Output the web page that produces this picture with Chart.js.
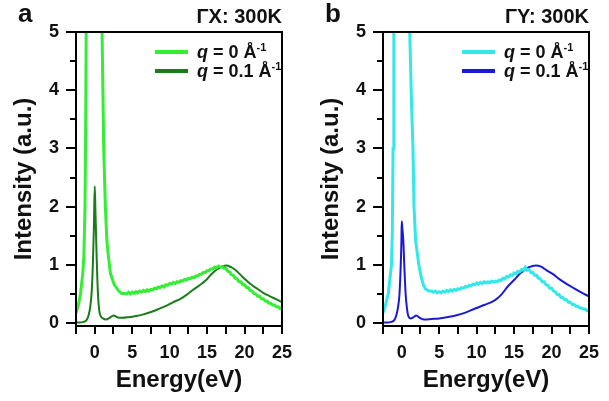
<!DOCTYPE html>
<html>
<head>
<meta charset="utf-8">
<script src="https://cdn.jsdelivr.net/npm/chart.js@4.4.1/dist/chart.umd.min.js"></script>
<style>
  body { margin: 0; background: #fff; width: 609px; height: 401px; position: relative; overflow: hidden; }
  canvas { position: absolute; top: 0; }
</style>
</head>
<body>
<canvas id="chart-gx" width="300" height="401" style="left:0"></canvas>
<canvas id="chart-gy" width="300" height="401" style="left:307px"></canvas>
<script>
// ticks
let xTicks = [-2.5, 0, 2.5, 5, 7.5, 10, 12.5, 15, 17.5, 20, 22.5, 25];
let yTicks = [0, 0.5, 1, 1.5, 2, 2.5, 3, 3.5, 4, 4.5, 5];

// shared energy grid for the noisy q = 0 tails (eV)
let fineEnergy = [4, 4.25, 4.5, 4.75, 5, 5.25, 5.5, 5.75, 6, 6.25, 6.5, 6.75, 7, 7.25, 7.5, 7.75,
  8, 8.25, 8.5, 8.75, 9, 9.25, 9.5, 9.75, 10, 10.25, 10.5, 10.75, 11, 11.25, 11.5, 11.75,
  12, 12.25, 12.5, 12.75, 13, 13.25, 13.5, 13.75, 14, 14.25, 14.5, 14.75, 15, 15.25, 15.5, 15.75,
  16, 16.25, 16.5, 16.75, 17, 17.25, 17.5, 17.75, 18, 18.25, 18.5, 18.75, 19, 19.25, 19.5, 19.75,
  20, 20.25, 20.5, 20.75, 21, 21.25, 21.5, 21.75, 22, 22.25, 22.5, 22.75, 23, 23.25, 23.5, 23.75,
  24, 24.25, 24.5, 24.75, 25];

// panel a, GX, q = 0
let gxQ0HeadE = [-2.5, -2.2, -1.9, -1.6, -1.45, -1.3, -1.2, -1.1, -0.6, 0, 0.6, 0.85, 0.98, 1.2, 1.42, 1.63, 1.85, 2.1, 2.6, 3.2, 3.6];
let gxQ0HeadI = [0.17, 0.3, 0.5, 0.85, 1.15, 2.0, 3.5, 6, 14, 18, 11, 7, 5, 3, 2, 1.4, 1.12, 0.85, 0.66, 0.55, 0.51];
let gxQ0Tail = [0.51, 0.50, 0.53, 0.50, 0.53, 0.51, 0.54, 0.52, 0.55, 0.53, 0.56, 0.54, 0.57, 0.55, 0.58, 0.57,
  0.60, 0.59, 0.62, 0.61, 0.64, 0.62, 0.66, 0.65, 0.68, 0.67, 0.70, 0.68, 0.71, 0.70, 0.73, 0.72,
  0.75, 0.74, 0.77, 0.76, 0.79, 0.78, 0.81, 0.81, 0.84, 0.84, 0.87, 0.87, 0.90, 0.90, 0.93, 0.93,
  0.96, 0.95, 0.98, 0.96, 0.97, 0.94, 0.94, 0.89, 0.88, 0.83, 0.82, 0.77, 0.76, 0.71, 0.71, 0.66,
  0.66, 0.61, 0.61, 0.56, 0.55, 0.51, 0.50, 0.46, 0.46, 0.42, 0.42, 0.38, 0.38, 0.34, 0.34, 0.31,
  0.31, 0.28, 0.28, 0.25, 0.26];

// panel a, GX, q = 0.1
let gxQ1E = [-2.5, -2, -1.5, -1.1, -0.85, -0.6, -0.4, -0.25, -0.12, 0, 0.1, 0.2, 0.3, 0.45, 0.6, 0.8, 1.1, 1.5, 2.0, 2.5, 3.0, 3.6,
  4.5, 5.5, 6.5, 7.5, 8.5, 9.6, 10.5, 11.5, 12.2, 13, 14, 14.8, 15.5, 16.3, 17, 17.6, 18.2, 18.7, 19.3, 20, 20.8, 21.7, 22.5, 23.4, 24.2, 25];
let gxQ1I = [0.01, 0.01, 0.02, 0.05, 0.12, 0.28, 0.55, 1.0, 1.6, 2.35, 1.9, 1.4, 0.95, 0.45, 0.22, 0.12, 0.08, 0.06, 0.09, 0.13, 0.1, 0.09,
  0.1, 0.12, 0.15, 0.19, 0.24, 0.3, 0.36, 0.42, 0.48, 0.56, 0.65, 0.73, 0.83, 0.92, 0.97, 0.99, 0.96, 0.92, 0.85, 0.76, 0.67, 0.59, 0.52, 0.46, 0.41, 0.36];

// panel b, GY, q = 0
let gyQ0HeadE = [-2.5, -2.2, -1.8, -1.37, -1.25, -1.16, -1.05, -0.6, 0, 0.6, 0.9, 1.07, 1.3, 1.5, 1.64, 1.85, 2.28, 2.58, 2.9, 3.14, 3.6];
let gyQ0HeadI = [0.17, 0.3, 0.5, 1.0, 1.6, 3.0, 6, 14, 18, 11, 7, 5, 3.8, 3.0, 2.0, 1.42, 1.0, 0.8, 0.65, 0.59, 0.55];
let gyQ0Tail = [0.55, 0.53, 0.55, 0.52, 0.54, 0.52, 0.55, 0.53, 0.56, 0.54, 0.57, 0.55, 0.58, 0.56, 0.59, 0.58,
  0.61, 0.60, 0.63, 0.62, 0.65, 0.64, 0.67, 0.66, 0.69, 0.67, 0.70, 0.68, 0.71, 0.69, 0.71, 0.69,
  0.72, 0.70, 0.72, 0.71, 0.74, 0.73, 0.77, 0.76, 0.80, 0.79, 0.83, 0.82, 0.86, 0.85, 0.89, 0.88,
  0.92, 0.91, 0.96, 0.91, 0.92, 0.87, 0.87, 0.82, 0.82, 0.77, 0.76, 0.71, 0.71, 0.66, 0.65, 0.60,
  0.60, 0.55, 0.54, 0.49, 0.49, 0.44, 0.44, 0.40, 0.40, 0.36, 0.36, 0.32, 0.32, 0.29, 0.29, 0.26,
  0.26, 0.24, 0.24, 0.21, 0.22];

// panel b, GY, q = 0.1
let gyQ1E = [-2.5, -2, -1.4, -1.0, -0.73, -0.5, -0.3, -0.13, -0.04, 0, 0.1, 0.21, 0.34, 0.52, 0.7, 0.86, 1.2, 1.55, 1.94, 2.4, 3.0,
  4.0, 5.0, 6.0, 7.2, 8.5, 9.8, 11, 12.4, 13.3, 14.1, 15, 15.8, 16.5, 17, 17.9, 18.6, 19.3, 20.2, 21, 21.8, 22.7, 23.9, 25];
let gyQ1I = [0.01, 0.01, 0.02, 0.05, 0.13, 0.27, 0.5, 1.0, 1.42, 1.75, 1.6, 1.42, 1.0, 0.5, 0.25, 0.13, 0.08, 0.1, 0.13, 0.09, 0.06,
  0.07, 0.08, 0.1, 0.13, 0.18, 0.25, 0.31, 0.39, 0.49, 0.62, 0.74, 0.85, 0.92, 0.96, 0.99, 0.97, 0.91, 0.84, 0.76, 0.69, 0.62, 0.53, 0.46];

const FONT = '"Liberation Sans", Arial, sans-serif';
Chart.defaults.font.family = FONT;
Chart.defaults.font.weight = 'bold';
Chart.defaults.color = '#111';

function pairs(es, is) {
  return es.map((e, i) => ({ x: e, y: is[i] }));
}

// frame, tick marks, panel letter, title and in-plot legend
const panelDecor = {
  id: 'panelDecor',
  afterDraw(chart, args, opts) {
    const { ctx, chartArea: a } = chart;
    const xs = chart.scales.x;
    const ys = chart.scales.y;
    ctx.save();
    ctx.strokeStyle = '#000';
    ctx.lineWidth = 2;
    ctx.strokeRect(a.left, a.top, a.right - a.left, a.bottom - a.top);

    ctx.beginPath();
    xTicks.forEach(v => {
      const px = Math.round(xs.getPixelForValue(v));
      ctx.moveTo(px, a.bottom);
      ctx.lineTo(px, a.bottom + 8);
    });
    yTicks.forEach(v => {
      const py = Math.round(ys.getPixelForValue(v));
      ctx.moveTo(a.left - (Number.isInteger(v) ? 10 : 6), py);
      ctx.lineTo(a.left, py);
    });
    ctx.stroke();

    ctx.fillStyle = '#111';
    ctx.textBaseline = 'alphabetic';
    ctx.textAlign = 'left';
    ctx.font = 'bold 26px ' + FONT;
    ctx.fillText(opts.letter, 18, 22);
    ctx.textAlign = 'right';
    ctx.font = 'bold 20px ' + FONT;
    ctx.fillText(opts.title, a.right, 23);

    ctx.textAlign = 'left';
    opts.entries.forEach((ent, k) => {
      const cy = 52 + k * 19;
      ctx.strokeStyle = ent.color;
      ctx.lineWidth = 4;
      ctx.beginPath();
      ctx.moveTo(155, cy);
      ctx.lineTo(188, cy);
      ctx.stroke();
      let tx = 197;
      const base = cy + 6;
      ctx.font = 'italic bold 18px ' + FONT;
      ctx.fillText('q', tx, base);
      tx += ctx.measureText('q').width;
      ctx.font = 'bold 18px ' + FONT;
      const body = ' = ' + ent.q + ' Å';
      ctx.fillText(body, tx, base);
      tx += ctx.measureText(body).width;
      ctx.font = 'bold 11px ' + FONT;
      ctx.fillText('-1', tx, base - 7);
    });
    ctx.restore();
  }
};

function makePanel(id, series, decor) {
  new Chart(document.getElementById(id).getContext('2d'), {
    type: 'line',
    data: {
      datasets: series.map(s => ({
        label: s.label,
        data: s.data,
        borderColor: s.color,
        borderWidth: s.width,
        pointRadius: 0,
        tension: 0,
        cubicInterpolationMode: s.smooth ? 'monotone' : 'default',
      })),
    },
    options: {
      responsive: false,
      animation: false,
      devicePixelRatio: 1,
      layout: { padding: { top: 32, right: 10, left: 0, bottom: 0 } },
      plugins: {
        legend: { display: false },
        tooltip: { enabled: false },
        panelDecor: decor,
      },
      scales: {
        x: {
          type: 'linear',
          min: -2.5,
          max: 25,
          afterBuildTicks: (s) => { s.ticks = xTicks.map(v => ({ value: v })); },
          afterFit: (s) => { s.height = 75; },
          ticks: {
            callback: (v) => (v % 5 === 0 ? String(v) : ''),
            font: { size: 18, weight: 'bold' },
            color: '#111',
            padding: 8,
            maxRotation: 0,
            autoSkip: false,
          },
          grid: { drawOnChartArea: false, tickLength: 8, color: 'rgba(0,0,0,0)' },
          border: { color: '#000', width: 2 },
          title: {
            display: true,
            text: 'Energy(eV)',
            font: { size: 24, weight: 'bold' },
            color: '#111',
            padding: { top: 0, bottom: 6 },
          },
        },
        y: {
          type: 'linear',
          min: -0.05,
          max: 5,
          afterBuildTicks: (s) => { s.ticks = yTicks.map(v => ({ value: v })); },
          afterFit: (s) => { s.width = 76; },
          ticks: {
            callback: (v) => (Number.isInteger(v) ? String(v) : ''),
            font: { size: 18, weight: 'bold' },
            color: '#111',
            padding: 7,
            autoSkip: false,
          },
          grid: { drawOnChartArea: false, tickLength: 10, color: 'rgba(0,0,0,0)' },
          border: { color: '#000', width: 2 },
          title: {
            display: true,
            text: 'Intensity (a.u.)',
            font: { size: 24, weight: 'bold' },
            color: '#111',
            padding: { top: 10, bottom: 0 },
          },
        },
      },
    },
    plugins: [panelDecor],
  });
}

makePanel('chart-gx', [
  { label: 'q = 0', data: pairs(gxQ0HeadE.concat(fineEnergy), gxQ0HeadI.concat(gxQ0Tail)), color: '#33ee33', width: 3, smooth: false },
  { label: 'q = 0.1', data: pairs(gxQ1E, gxQ1I), color: '#1a7d1a', width: 2, smooth: true },
], {
  letter: 'a',
  title: 'ΓX: 300K',
  entries: [{ q: '0', color: '#33ee33' }, { q: '0.1', color: '#1a7d1a' }],
});

makePanel('chart-gy', [
  { label: 'q = 0', data: pairs(gyQ0HeadE.concat(fineEnergy), gyQ0HeadI.concat(gyQ0Tail)), color: '#33e8e8', width: 3, smooth: false },
  { label: 'q = 0.1', data: pairs(gyQ1E, gyQ1I), color: '#1a1ad6', width: 2, smooth: true },
], {
  letter: 'b',
  title: 'ΓY: 300K',
  entries: [{ q: '0', color: '#33e8e8' }, { q: '0.1', color: '#1a1ad6' }],
});
</script>
</body>
</html>
